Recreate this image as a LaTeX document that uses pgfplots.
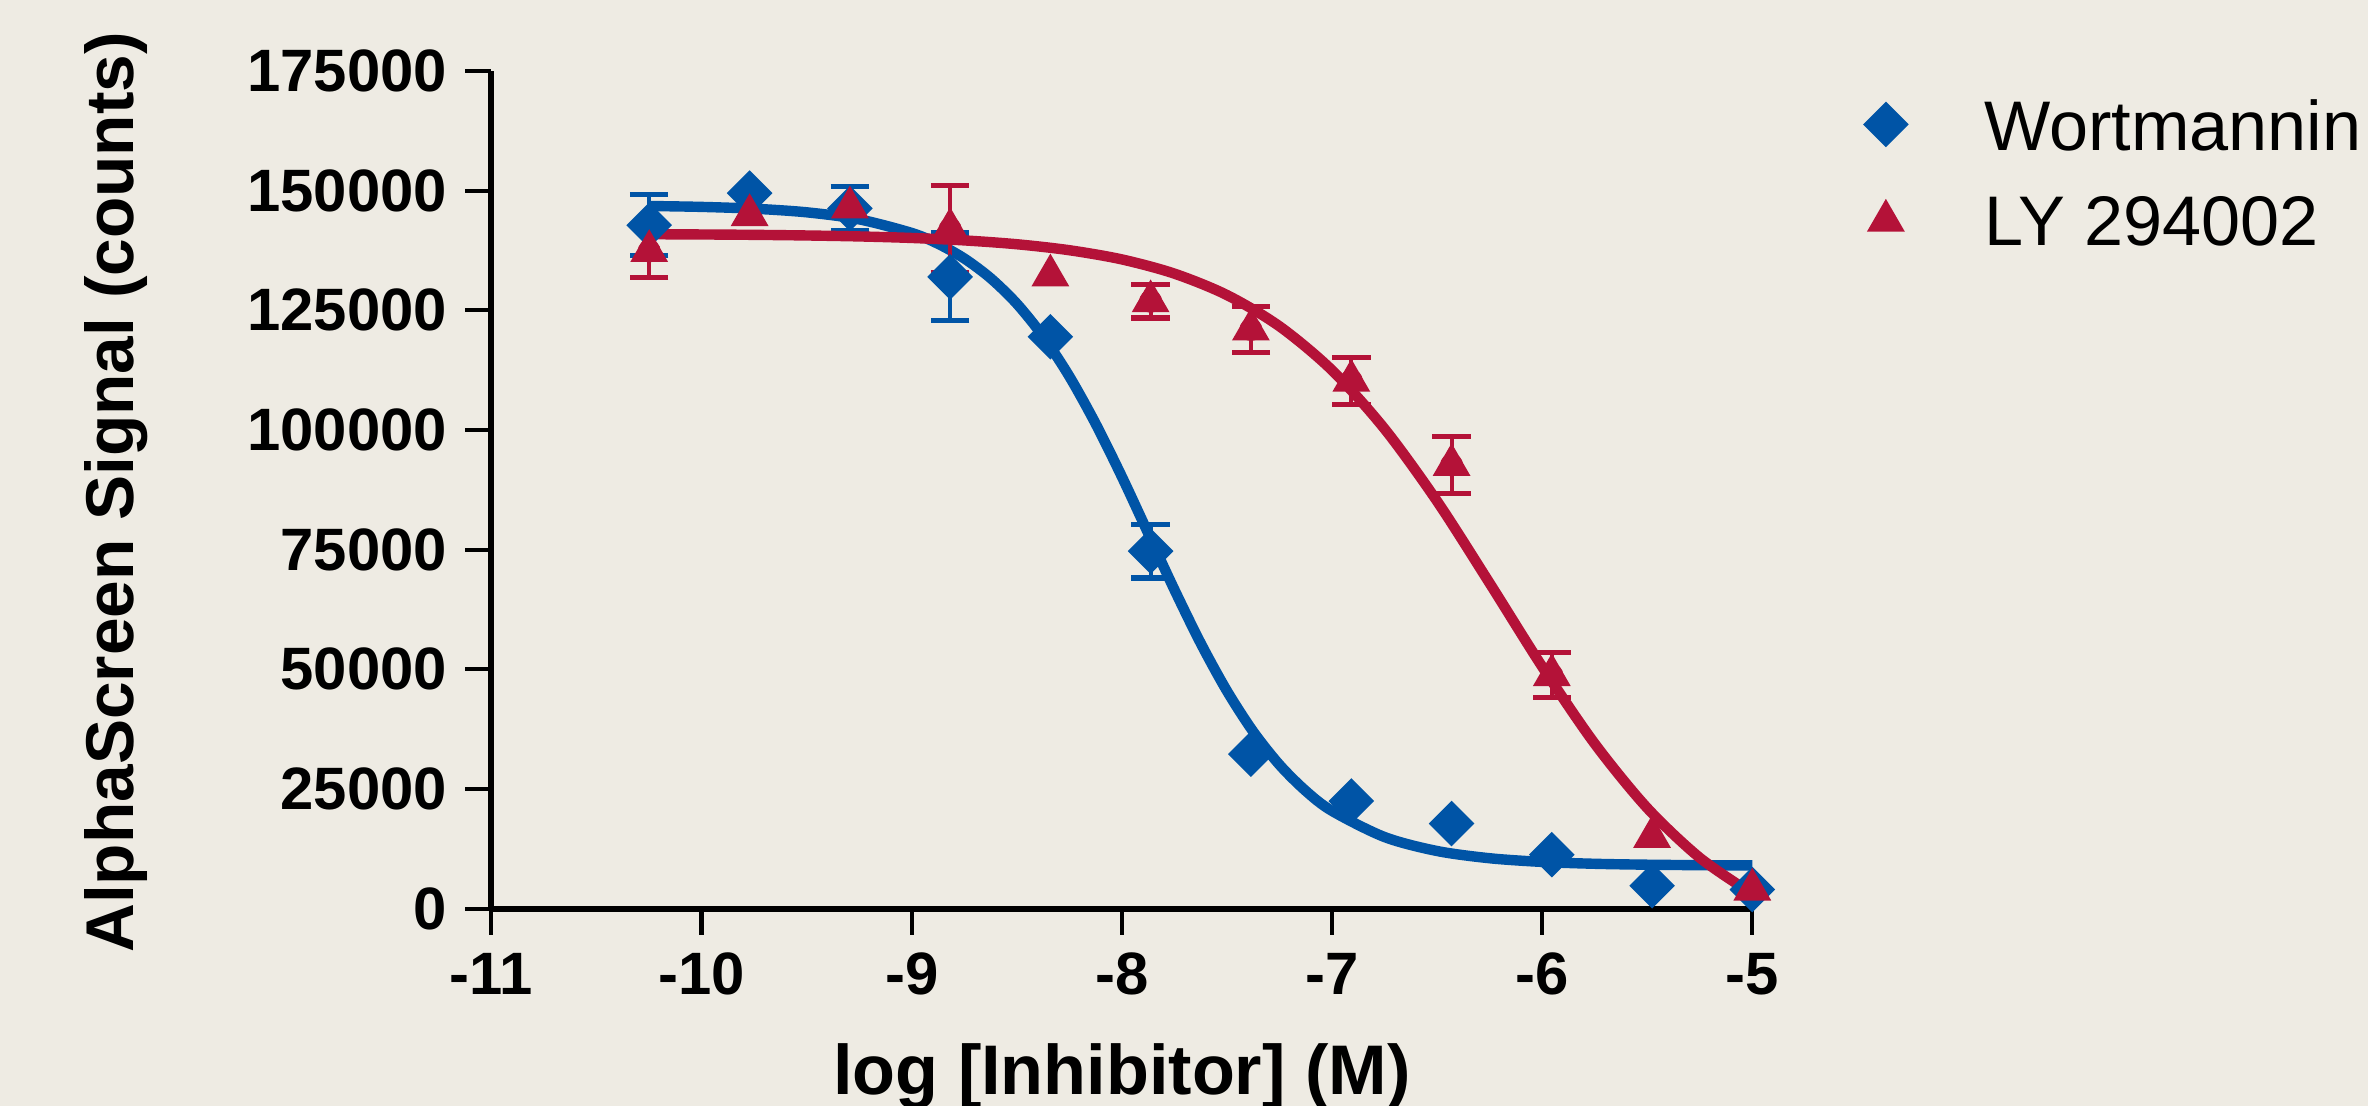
\documentclass[border=0pt]{standalone}
\usepackage{fontspec}
\setmainfont{Liberation Sans}
\usepackage{pgfplots}
\pgfplotsset{compat=1.18}
\usetikzlibrary{backgrounds}
\definecolor{bgc}{RGB}{238,235,227}
\definecolor{wblue}{RGB}{0,84,166}
\definecolor{lyred}{RGB}{180,18,56}

\begin{document}
\begin{tikzpicture}
\begin{axis}[
  at={(0,0)}, anchor=south west,
  width=8.52cm, height=5.66cm, scale only axis,
  xmin=-11, xmax=-5, ymin=0, ymax=175000,
  clip=false,
  axis lines=left, axis line style={-, line width=1.2pt},
  xtick={-11,-10,...,-5}, ytick={0,25000,...,175000},
  tick align=outside, major tick length=0.175cm,
  tick style={line width=0.8pt, black},
  scaled y ticks=false,
  /pgf/number format/assume math mode=true,
  yticklabel style={/pgf/number format/.cd, fixed, 1000 sep={}},
  ticklabel style={font=\bfseries\fontsize{11.5}{12}\selectfont},
  xlabel={log [Inhibitor] (M)},
  ylabel={AlphaScreen Signal (counts)},
  xlabel style={font=\bfseries\fontsize{13.5}{14}\selectfont,
    at={(axis description cs:0.5,-0.2217)}, anchor=base},
  ylabel style={font=\bfseries\fontsize{13}{14}\selectfont,
    at={(axis description cs:-0.2838,0.497)}, anchor=base},
  legend style={draw=none, fill=none, at={(axis description cs:1.089,0.966)},
    anchor=north west, inner sep=0pt, outer sep=0pt,
    row sep=0.26cm, column sep=0.52cm,
    font=\fontsize{13.5}{14}\selectfont, nodes={inner sep=0pt}},
  legend cell align=left,
  legend image code/.code={\draw[#1] plot coordinates {(0cm,0.03cm)};},
]
% Wortmannin fit
\addplot[wblue, line width=2pt, smooth, forget plot] coordinates {
  (-10.25,146810) (-10.0,146620) (-9.75,146240) (-9.5,145490) (-9.25,144020)
  (-9.0,141180) (-8.875,138920) (-8.75,135850) (-8.625,131750) (-8.5,126410)
  (-8.375,119590) (-8.25,111230) (-8.125,101350) (-8.0,90270) (-7.875,78470)
  (-7.75,66670) (-7.625,55490) (-7.5,45510) (-7.375,37010) (-7.25,30080)
  (-7.125,24620) (-7.0,20440) (-6.75,14980) (-6.5,12060) (-6.25,10550)
  (-6.0,9780) (-5.75,9390) (-5.5,9200) (-5.25,9100) (-5.0,9050)
};
\addplot[wblue, only marks, mark=none, forget plot,
  error bars/.cd, y dir=both, y explicit,
  error bar style={line width=0.8pt},
  error mark options={rotate=90, mark size=3.7pt, line width=1pt}] coordinates {
  (-10.249,142800) +- (0,6400)
  (-9.294,146300) +- (0,4600)
  (-8.817,132000) +- (0,9150)
  (-7.863,74700) +- (0,5600)
};
\addplot[wblue, only marks, mark=square*, mark size=2.9pt,
  mark options={rotate=45, draw=none, fill=wblue}] coordinates {
  (-10.249,142800) (-9.771,149500) (-9.294,146300) (-8.817,132000)
  (-8.340,119500) (-7.863,74700) (-7.386,32300) (-6.908,22500)
  (-6.431,17800) (-5.954,11300) (-5.477,4800) (-5.000,4000)
};
\addlegendentry{Wortmannin}
% LY 294002 fit
\addplot[lyred, line width=2pt, smooth, forget plot] coordinates {
  (-10.25,140910) (-10.0,140860) (-9.75,140780) (-9.5,140650) (-9.25,140450)
  (-9.0,140130) (-8.75,139620) (-8.5,138820) (-8.25,137570) (-8.0,135650)
  (-7.75,132680) (-7.5,128210) (-7.25,121680) (-7.0,112500) (-6.75,100260)
  (-6.5,85140) (-6.25,68020) (-6.0,50580) (-5.75,34490) (-5.5,21040)
  (-5.25,10650) (-5.0,3120)
};
\addplot[lyred, only marks, mark=none, forget plot,
  error bars/.cd, y dir=both, y explicit,
  error bar style={line width=0.8pt},
  error mark options={rotate=90, mark size=3.7pt, line width=1pt}] coordinates {
  (-10.249,137400) +- (0,5600)
  (-8.817,142000) +- (0,9150)
  (-7.863,126900) +- (0,3500)
  (-7.386,121000) +- (0,4800)
  (-6.908,110300) +- (0,4900)
  (-6.431,92700) +- (0,5900)
  (-5.954,48800) +- (0,4650)
};
\addplot[lyred, only marks, mark=triangle*, mark size=3.8pt,
  mark options={draw=none, fill=lyred}] coordinates {
  (-10.249,137400) (-9.771,144900) (-9.294,146500) (-8.817,142000)
  (-8.340,132300) (-7.863,126900) (-7.386,121000) (-6.908,110300)
  (-6.431,92700) (-5.954,48800) (-5.477,15000) (-5.000,4000)
};
\addlegendentry{LY 294002}
\end{axis}
\begin{pgfonlayer}{background}
\fill[bgc] (-3.32,-1.33) rectangle (12.68,6.14);
\end{pgfonlayer}
\pgfresetboundingbox
\path (-3.32,-1.33) rectangle (12.68,6.14);
\end{tikzpicture}
\end{document}
